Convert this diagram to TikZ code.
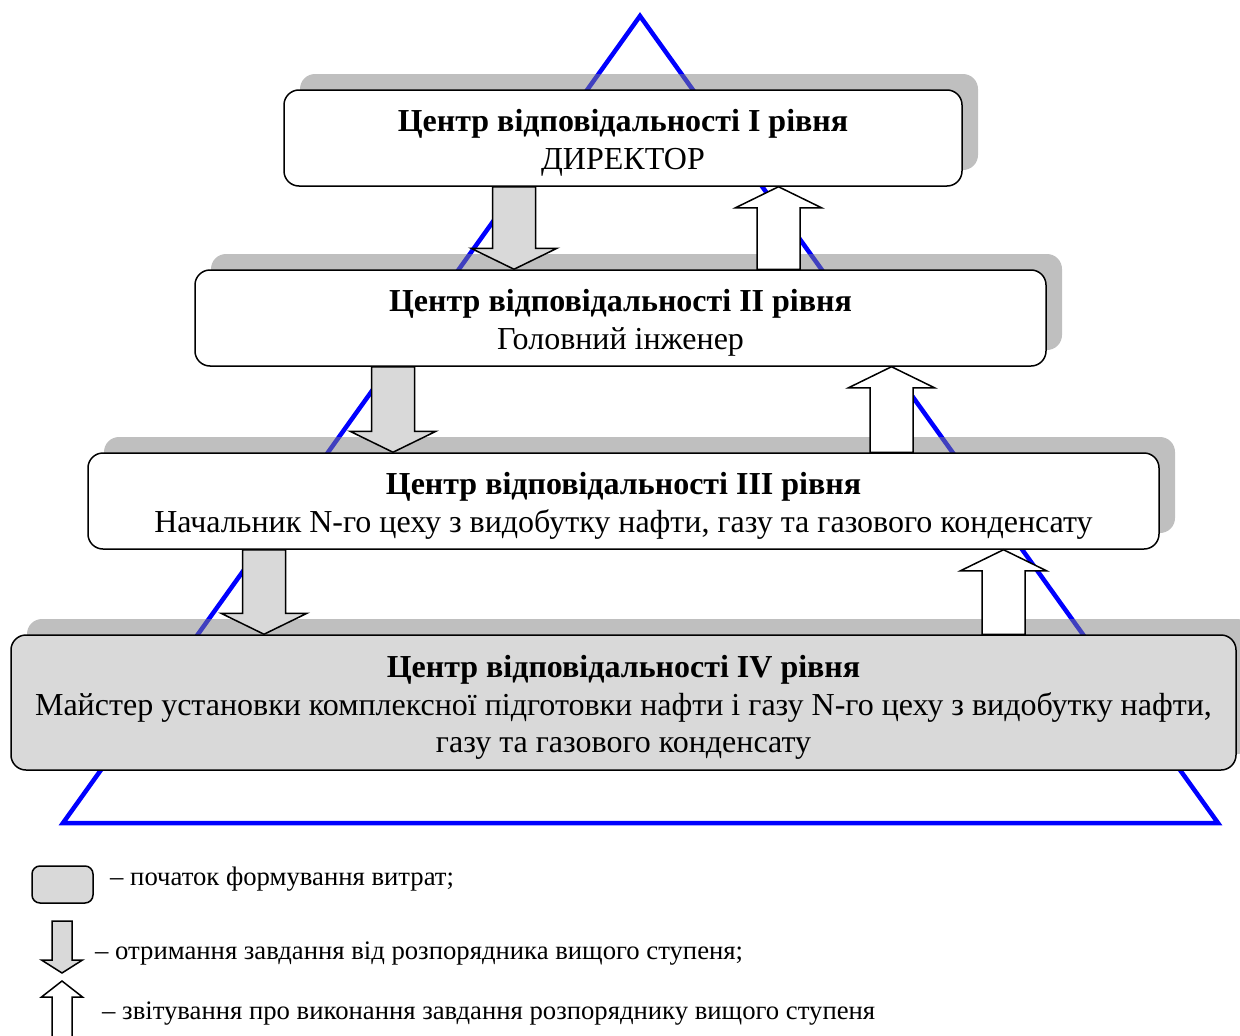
\documentclass[tikz,border=0pt]{standalone}
\usepackage{fontspec}
\setmainfont{Liberation Serif}
\usetikzlibrary{shadows,calc}
\definecolor{lightgr}{RGB}{217,217,217}
\definecolor{pyramid}{RGB}{0,0,255}
% tall strut that lowers the two-line captions a little inside their boxes
\newcommand\capstrut{\rule{0pt}{32pt}}
% block arrow from the lower edge of #2 down to the upper edge of #3, centred at x=#1
\newcommand\taskarrow[3]{%
  \draw[taskarr] let \p1=(#2.south), \p2=(#3.north) in
    (#1pt-21.5pt,\y1) -- (#1pt+21.5pt,\y1) -- (#1pt+21.5pt,\y2+21pt) -- (#1pt+43pt,\y2+21pt)
    -- (#1pt,\y2) -- (#1pt-43pt,\y2+21pt) -- (#1pt-21.5pt,\y2+21pt) -- cycle;}
% block arrow from the upper edge of #2 up to the lower edge of #3, centred at x=#1
\newcommand\reportarrow[3]{%
  \draw[reportarr] let \p1=(#2.north), \p2=(#3.south) in
    (#1pt-21.5pt,\y1) -- (#1pt+21.5pt,\y1) -- (#1pt+21.5pt,\y2-21pt) -- (#1pt+43pt,\y2-21pt)
    -- (#1pt,\y2) -- (#1pt-43pt,\y2-21pt) -- (#1pt-21.5pt,\y2-21pt) -- cycle;}
\begin{document}
\begin{tikzpicture}[x=1pt,y=-1pt,
  level/.style={draw=black, line width=1.5pt, rounded corners=15pt, fill=white,
    align=center, inner sep=0pt, font=\fontsize{32}{37.5}\selectfont,
    drop shadow={shadow xshift=16pt, shadow yshift=16pt, fill=black!50, opacity=0.5}},
  taskarr/.style={draw=black, line width=1.5pt, fill=lightgr, line join=miter},
  reportarr/.style={draw=black, line width=1.5pt, fill=white, line join=miter},
  legtext/.style={anchor=base west, inner sep=0pt, font=\fontsize{26.7}{30}\selectfont}]
\useasboundingbox (0,0) rectangle (1240,1036);

% pyramid outline
\draw[pyramid, line width=4.5pt, line join=miter] (640,16) -- (1218,823) -- (63,823) -- cycle;

% responsibility levels
\node[level, minimum width=678pt, minimum height=96pt] (b1) at (623,138)
  {\capstrut\textbf{Центр відповідальності I рівня}\\ДИРЕКТОР};
\node[level, minimum width=851pt, minimum height=96pt] (b2) at (620.5,318)
  {\capstrut\textbf{Центр відповідальності II рівня}\\Головний інженер};
\node[level, minimum width=1071pt, minimum height=96pt] (b3) at (623.5,501)
  {\capstrut\textbf{Центр відповідальності III рівня}\\Начальник N-го цеху з видобутку нафти, газу та газового конденсату};
\node[level, fill=lightgr, minimum width=1225pt, minimum height=135pt] (b4) at (623.5,702.5)
  {\capstrut\textbf{Центр відповідальності IV рівня}\\Майстер установки комплексної підготовки нафти і газу N-го цеху з видобутку нафти,\\газу та газового конденсату};

% tasks go down, reports go up
\taskarrow{514}{b1}{b2}
\taskarrow{393}{b2}{b3}
\taskarrow{264}{b3}{b4}
\reportarrow{778.5}{b2}{b1}
\reportarrow{891.5}{b3}{b2}
\reportarrow{1003.5}{b4}{b3}

% legend
\node[draw=black, line width=1.5pt, fill=lightgr, rounded corners=8pt,
  minimum width=61pt, minimum height=37pt, inner sep=0pt] (lg) at (62.5,884.5) {};
\node[legtext] (t1) at (110,885) {– початок формування витрат;};
\draw[taskarr] (52,921) -- (72,921) -- (72,960) -- (82.5,960) -- (62,973) -- (41.5,960) -- (52,960) -- cycle;
\node[legtext] (t2) at (95,959) {– отримання завдання від розпорядника вищого ступеня;};
\draw[reportarr] (52,1045) -- (52,997) -- (41.5,997) -- (62,981) -- (82.5,997) -- (72,997) -- (72,1045);
\node[legtext] (t3) at (102,1019) {– звітування про виконання завдання розпоряднику вищого ступеня};
\end{tikzpicture}
\end{document}
